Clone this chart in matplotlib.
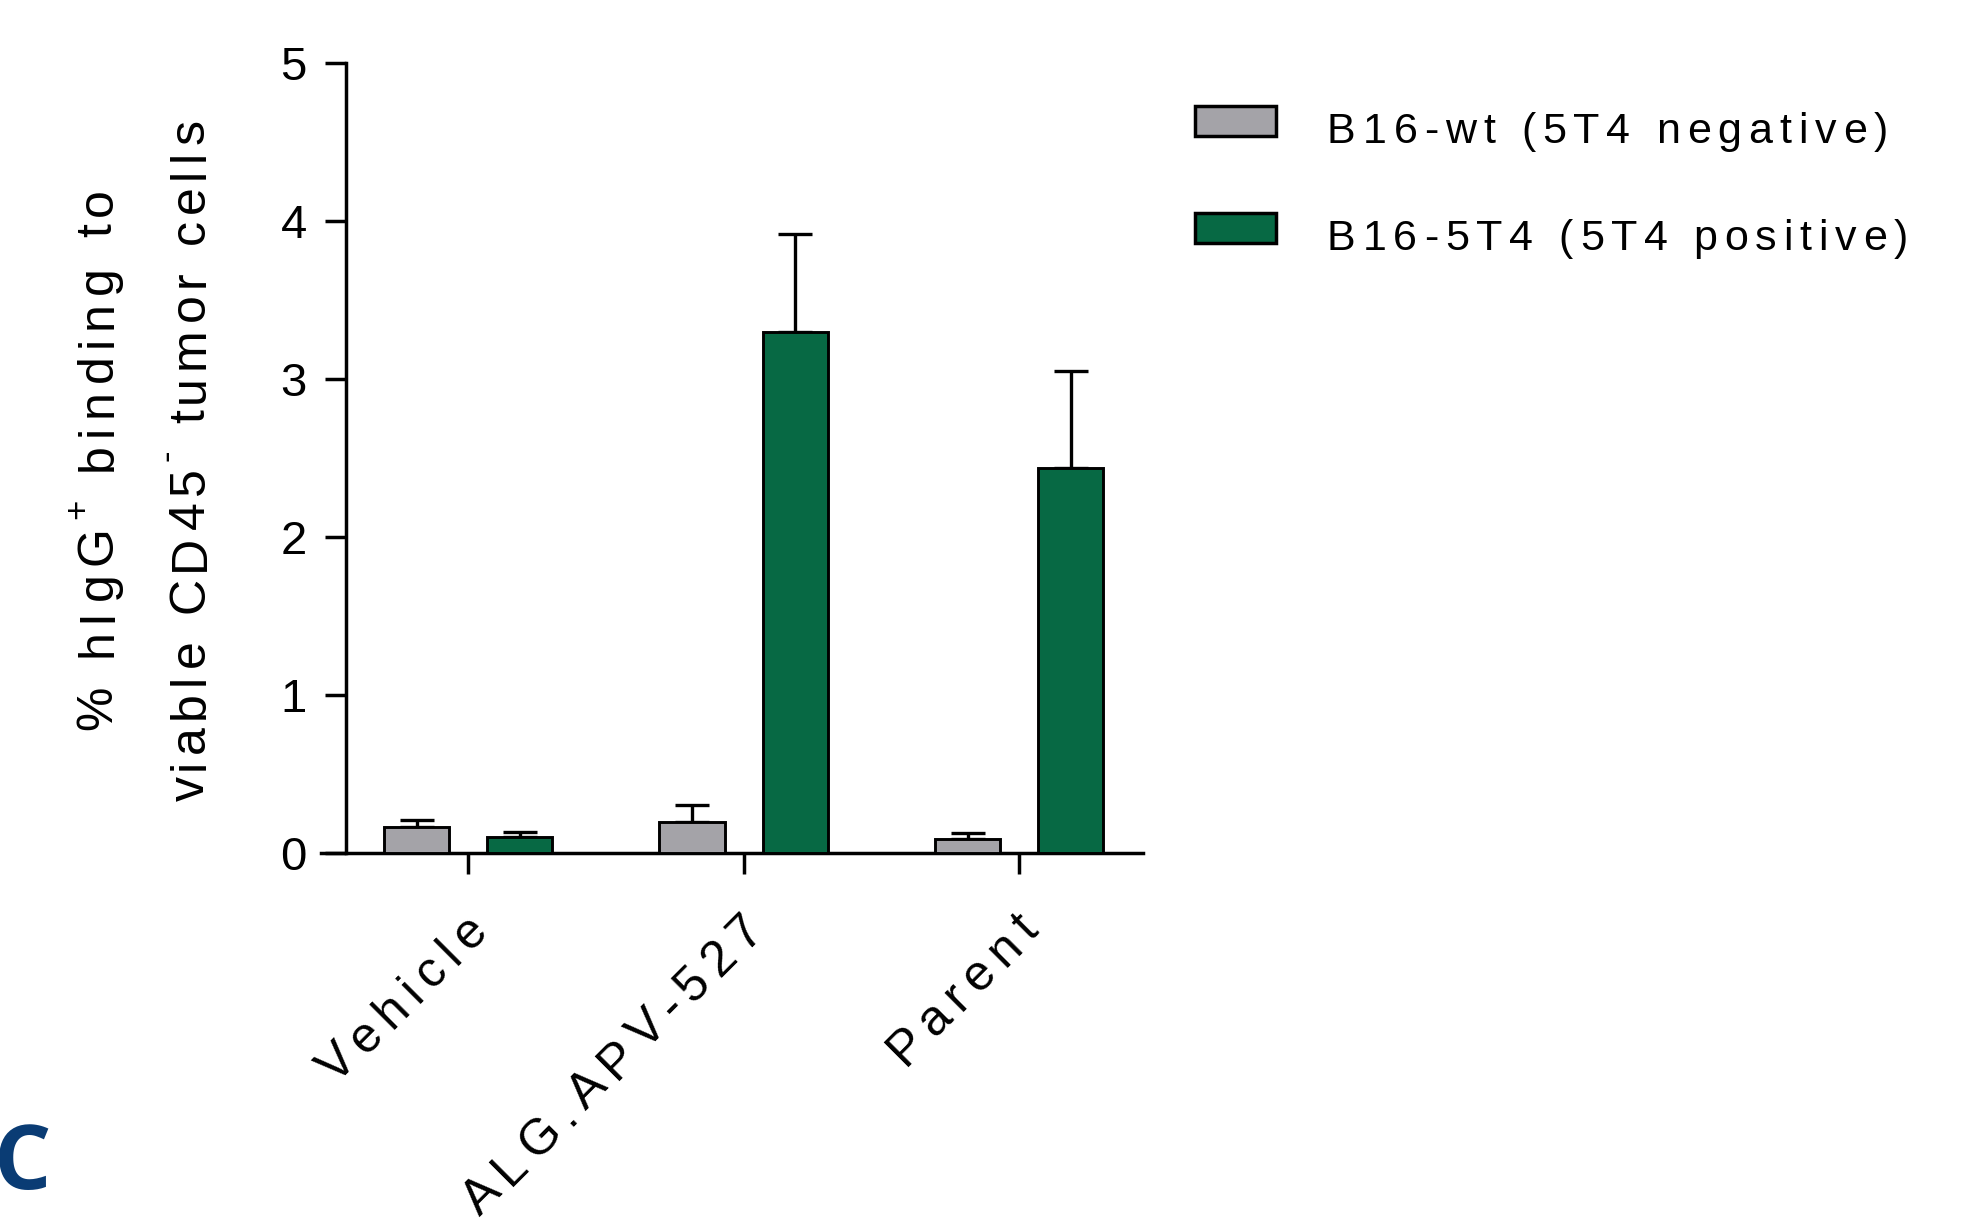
import numpy as np
import matplotlib
matplotlib.use("Agg")
import matplotlib.pyplot as plt
from matplotlib.font_manager import FontProperties, findfont, get_font
from matplotlib.patches import Rectangle

# ---- data -------------------------------------------------------------
groups = ["Vehicle", "ALG.APV-527", "Parent"]
series_names = ["B16-wt (5T4 negative)", "B16-5T4 (5T4 positive)"]
wt_mean = [0.165, 0.20, 0.09]
wt_err = [0.046, 0.108, 0.040]
pos_mean = [0.10, 3.30, 2.44]
pos_err = [0.034, 0.62, 0.61]
yticks = [0, 1, 2, 3, 4, 5]
panel_letter = "C"

# ---- style ------------------------------------------------------------
W, H, DPI = 1973, 1218, 100
GRAY = "#A4A3A8"
GREEN = "#076944"
FAMILY = "Liberation Sans"
LW_AXIS = 2.5
LW_BAR = 2.1
LW_ERR = 2.4

fig = plt.figure(figsize=(W / DPI, H / DPI), dpi=DPI)


def glyph_advances(s, size):
    font = get_font(findfont(FontProperties(family=FAMILY)))
    font.set_size(size, DPI)
    return [font.load_char(ord(c)).linearHoriAdvance / 65536 for c in s]


def spaced_text(runs, x, y, angle=0.0, track=0.0, length=None, align="left",
                color="black"):
    """Letter-spaced text; x, y are pixel coords measured from the top-left."""
    th = np.deg2rad(angle)
    d = np.array([np.cos(th), np.sin(th)])
    n = np.array([-np.sin(th), np.cos(th)])
    items, pos = [], 0.0
    for s, size, rise in runs:
        for c, a in zip(s, glyph_advances(s, size)):
            items.append([c, size, rise, pos, a])
            pos += a
    if length is not None and len(items) > 1:
        track = (length - pos) / (len(items) - 1)
    for i, it in enumerate(items):
        it[3] += i * track
    total = pos + track * (len(items) - 1)
    shift = {"left": 0.0, "center": -total / 2, "right": -total}[align]
    origin = np.array([x, H - y], dtype=float)
    for c, size, rise, p, _ in items:
        if c == " ":
            continue
        q = origin + (p + shift) * d + rise * n
        fig.text(q[0] / W, q[1] / H, c, fontsize=size, family=FAMILY,
                 color=color, rotation=angle, rotation_mode="anchor",
                 ha="left", va="baseline")


# ---- axes -------------------------------------------------------------
x_left_px, x_right_px = 321, 1143
y_zero_px, y_top_px = 853.2, 62.9
ax = fig.add_axes([x_left_px / W, (H - y_zero_px) / H,
                   (x_right_px - x_left_px) / W, (y_zero_px - y_top_px) / H])
ax.set_xlim(-0.5337, 2.449)
ax.set_ylim(0, 5)

x = np.arange(len(groups))
off, bw = 0.187, 0.237

ax.bar(x - off, wt_mean, bw, color=GRAY, edgecolor="black", linewidth=LW_BAR, zorder=3)
ax.bar(x + off, pos_mean, bw, color=GREEN, edgecolor="black", linewidth=LW_BAR, zorder=3)
ax.errorbar(x - off, wt_mean, yerr=[np.zeros(3), wt_err], fmt="none", ecolor="black",
            elinewidth=LW_ERR, capsize=12, capthick=LW_ERR, zorder=2)
ax.errorbar(x + off, pos_mean, yerr=[np.zeros(3), pos_err], fmt="none", ecolor="black",
            elinewidth=LW_ERR, capsize=12, capthick=LW_ERR, zorder=2)

for side in ("top", "right"):
    ax.spines[side].set_visible(False)
ax.spines["left"].set_position(("data", -0.443))
ax.spines["left"].set_linewidth(LW_AXIS)
ax.spines["bottom"].set_linewidth(LW_AXIS)

ax.set_yticks(yticks)
ax.set_yticklabels([str(t) for t in yticks], fontsize=34, family=FAMILY)
ax.tick_params(axis="y", direction="out", length=15.3, width=LW_AXIS, pad=13)
ax.set_xticks(x)
ax.set_xticklabels([])
ax.tick_params(axis="x", direction="out", length=15.3, width=LW_AXIS)

# rotated category labels, right end anchored under each tick
fig.canvas.draw()
for xi, name in zip(x, groups):
    tx, _ = ax.transData.transform((xi, 0))
    spaced_text([(name, 36, 0)], tx + 21, y_zero_px + 79, angle=45,
                track=8.8, align="right")

# two-line y label
spaced_text([("% hIgG", 36, 0), ("+", 25, 24), (" binding to", 36, 0)],
            111.5, 459, angle=90, length=541, align="center")
spaced_text([("viable CD45", 36, 0), ("-", 25, 28), (" tumor cells", 36, 0)],
            204, 460, angle=90, length=682, align="center")

# legend
for (name, col, top, base, length) in zip(series_names, [GRAY, GREEN],
                                          [106, 213], [143, 250], [561, 581]):
    fig.patches.append(Rectangle((1195 / W, (H - top - 30) / H), 81 / W, 30 / H,
                                 transform=fig.transFigure, facecolor=col,
                                 edgecolor="black", linewidth=LW_AXIS))
    spaced_text([(name, 31, 0)], 1327, base, length=length)

# panel letter
fig.text(-6 / W, 29 / H, panel_letter, fontsize=65, fontweight="bold",
         family="Open Sans", color="#0A3C74", ha="left", va="baseline")

fig.savefig("out.png", dpi=DPI)
